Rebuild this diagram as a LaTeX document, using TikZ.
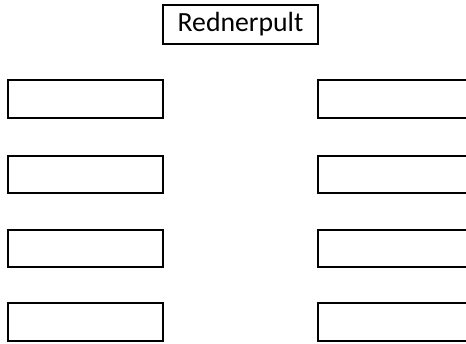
\documentclass[tikz,border=0pt]{standalone}
\usepackage{fontspec}
\setmainfont{Carlito}
\usetikzlibrary{positioning}

\begin{document}
\begin{tikzpicture}[x=0.75pt,y=-0.75pt,
  seat/.style={draw,line width=1.5pt,minimum height=28.1pt,inner sep=0pt},
  pult/.style={draw,line width=1.5pt,minimum width=116pt,minimum height=29pt,inner sep=0pt}]
\clip (0,0) rectangle (466,343);
\useasboundingbox (0,0) rectangle (466,343);

\node (pult) at (240.5,24.5) [pult] {\fontsize{20.8}{25}\selectfont Rednerpult};

% two rows of seats, the right ones run out of the page
\foreach \i/\y in {1/99,2/174.5,3/248.5,4/322} {
\node (l\i) at (85.5,\y) [seat,minimum width=116.25pt] {};
\node (r\i) at (399,\y) [seat,minimum width=121.5pt] {};
}
\end{tikzpicture}
\end{document}
